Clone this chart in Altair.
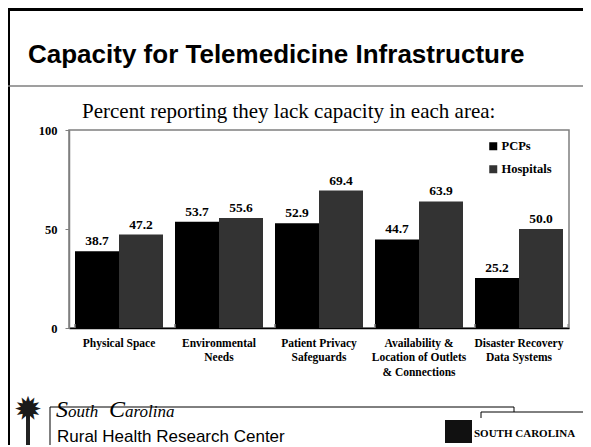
import altair as alt
import pandas as pd

categories = ["Physical Space", "Environmental|Needs", "Patient Privacy|Safeguards",
              "Availability &|Location of Outlets|& Connections", "Disaster Recovery|Data Systems"]
series = ["PCPs", "Hospitals"]
pcps = [38.7, 53.7, 52.9, 44.7, 25.2]
hospitals = [47.2, 55.6, 69.4, 63.9, 50.0]
colors = ["#000000", "#333333"]
y_ticks = [0, 50, 100]

rows = []
for c, p, h in zip(categories, pcps, hospitals):
    rows.append({"cat": c, "series": "PCPs", "value": p})
    rows.append({"cat": c, "series": "Hospitals", "value": h})
df = pd.DataFrame(rows)
one = pd.DataFrame({"a": [0]})

SERIF = "Liberation Serif"
GRAY = "#7f7f7f"

xenc = alt.X("cat:N", sort=categories,
             scale=alt.Scale(paddingInner=0.12, paddingOuter=0.06),
             axis=alt.Axis(title=None, labelAngle=0, ticks=False, domainColor="black",
                           domainWidth=1.5, labelFont=SERIF, labelFontWeight="bold",
                           labelFontSize=11.5, labelColor="black", labelPadding=9,
                           labelLineHeight=14.5, labelBaseline="top", labelLimit=200,
                           labelExpr="split(datum.label, '|')"))
xoff = alt.XOffset("series:N", sort=series, scale=alt.Scale(paddingInner=0, paddingOuter=0))
yenc = alt.Y("value:Q", scale=alt.Scale(domain=[0, 100]),
             axis=alt.Axis(title=None, values=y_ticks, grid=False, tickSize=4,
                           tickColor=GRAY, domainColor=GRAY, domainWidth=1.5,
                           labelFont=SERIF, labelFontWeight="bold", labelFontSize=12.5,
                           labelColor="black", labelPadding=8))

base = alt.Chart(df)
bars = base.mark_bar().encode(
    x=xenc, xOffset=xoff, y=yenc,
    color=alt.Color("series:N", sort=series,
                    scale=alt.Scale(domain=series, range=colors),
                    legend=alt.Legend(title=None, orient="none", legendX=418, legendY=10,
                                      symbolType="square", symbolSize=64,
                                      symbolStrokeWidth=0, labelFont=SERIF,
                                      labelFontWeight="bold", labelFontSize=12.5,
                                      labelColor="black", rowPadding=10, labelOffset=2)))
labels = base.mark_text(dy=-6, baseline="alphabetic", font=SERIF, fontWeight="bold",
                        fontSize=13.5, color="black").encode(
    x=xenc, xOffset=xoff, y=yenc, text=alt.Text("value:Q", format=".1f"))
ticks = base.mark_rule(color=GRAY, strokeWidth=1).encode(
    x=alt.X("cat:N", sort=categories, bandPosition=0), y=alt.value(198), y2=alt.value(194))


def txt(s, x, y, size, font, weight="normal", style="normal", color="black", align="left"):
    return alt.Chart(one).mark_text(text=s, align=align, baseline="alphabetic", font=font,
                                    fontSize=size, fontWeight=weight, fontStyle=style,
                                    color=color).encode(x=alt.value(x), y=alt.value(y))


def line(x1, y1, x2, y2, color="black", w=1.0):
    return alt.Chart(one).mark_rule(color=color, strokeWidth=w).encode(
        x=alt.value(x1), y=alt.value(y1), x2=alt.value(x2), y2=alt.value(y2))


decor = [
    line(-60.5, -122, -60.5, 320, "black", 3),
    line(-62, -120.5, 514, -120.5, "black", 3),
    line(-62, -44, 514, -44, GRAY, 1.5),
    line(499, 198, 499, 194, GRAY, 1),
    txt("Capacity for Telemedicine Infrastructure", -41, -67, 26, "Liberation Sans", "bold"),
    txt("Percent reporting they lack capacity in each area:", 13, -12, 21, SERIF),
    # footer
    line(-19, 277, 445, 277, "black", 1),
    line(445, 277, 445, 282, "black", 1),
    line(-19, 277, -19, 320, "black", 1),
    line(412, 282, 514, 282, "black", 1),
    line(412, 282, 412, 288, "black", 1),
    line(-41, 284, -41, 320, "#222222", 4),
    txt("\u2739", -41, 291, 34, "DejaVu Sans", color="#1a1a1a", align="center"),
    txt("S", -13, 287, 24, SERIF, style="italic"),
    txt("outh", -1, 287, 17, SERIF, style="italic"),
    txt("C", 40, 287, 24, SERIF, style="italic"),
    txt("arolina", 56, 287, 17, SERIF, style="italic"),
    txt("Rural Health Research Center", -12, 312, 17, "Liberation Sans"),
    alt.Chart(one).mark_rect(color="#111111").encode(
        x=alt.value(376), x2=alt.value(403), y=alt.value(290), y2=alt.value(313)),
    txt("SOUTH CAROLINA", 405, 307, 11, SERIF, "bold"),
]

chart = alt.layer(bars, labels, ticks, *decor).properties(
    width=500, height=198,
    autosize=alt.AutoSizeParams(type="none"),
    padding={"left": 61, "top": 122, "right": 14, "bottom": 117},
).configure_view(stroke=GRAY, strokeWidth=1.5)

chart.save("out.html", embed_options={"renderer": "svg", "actions": False})
